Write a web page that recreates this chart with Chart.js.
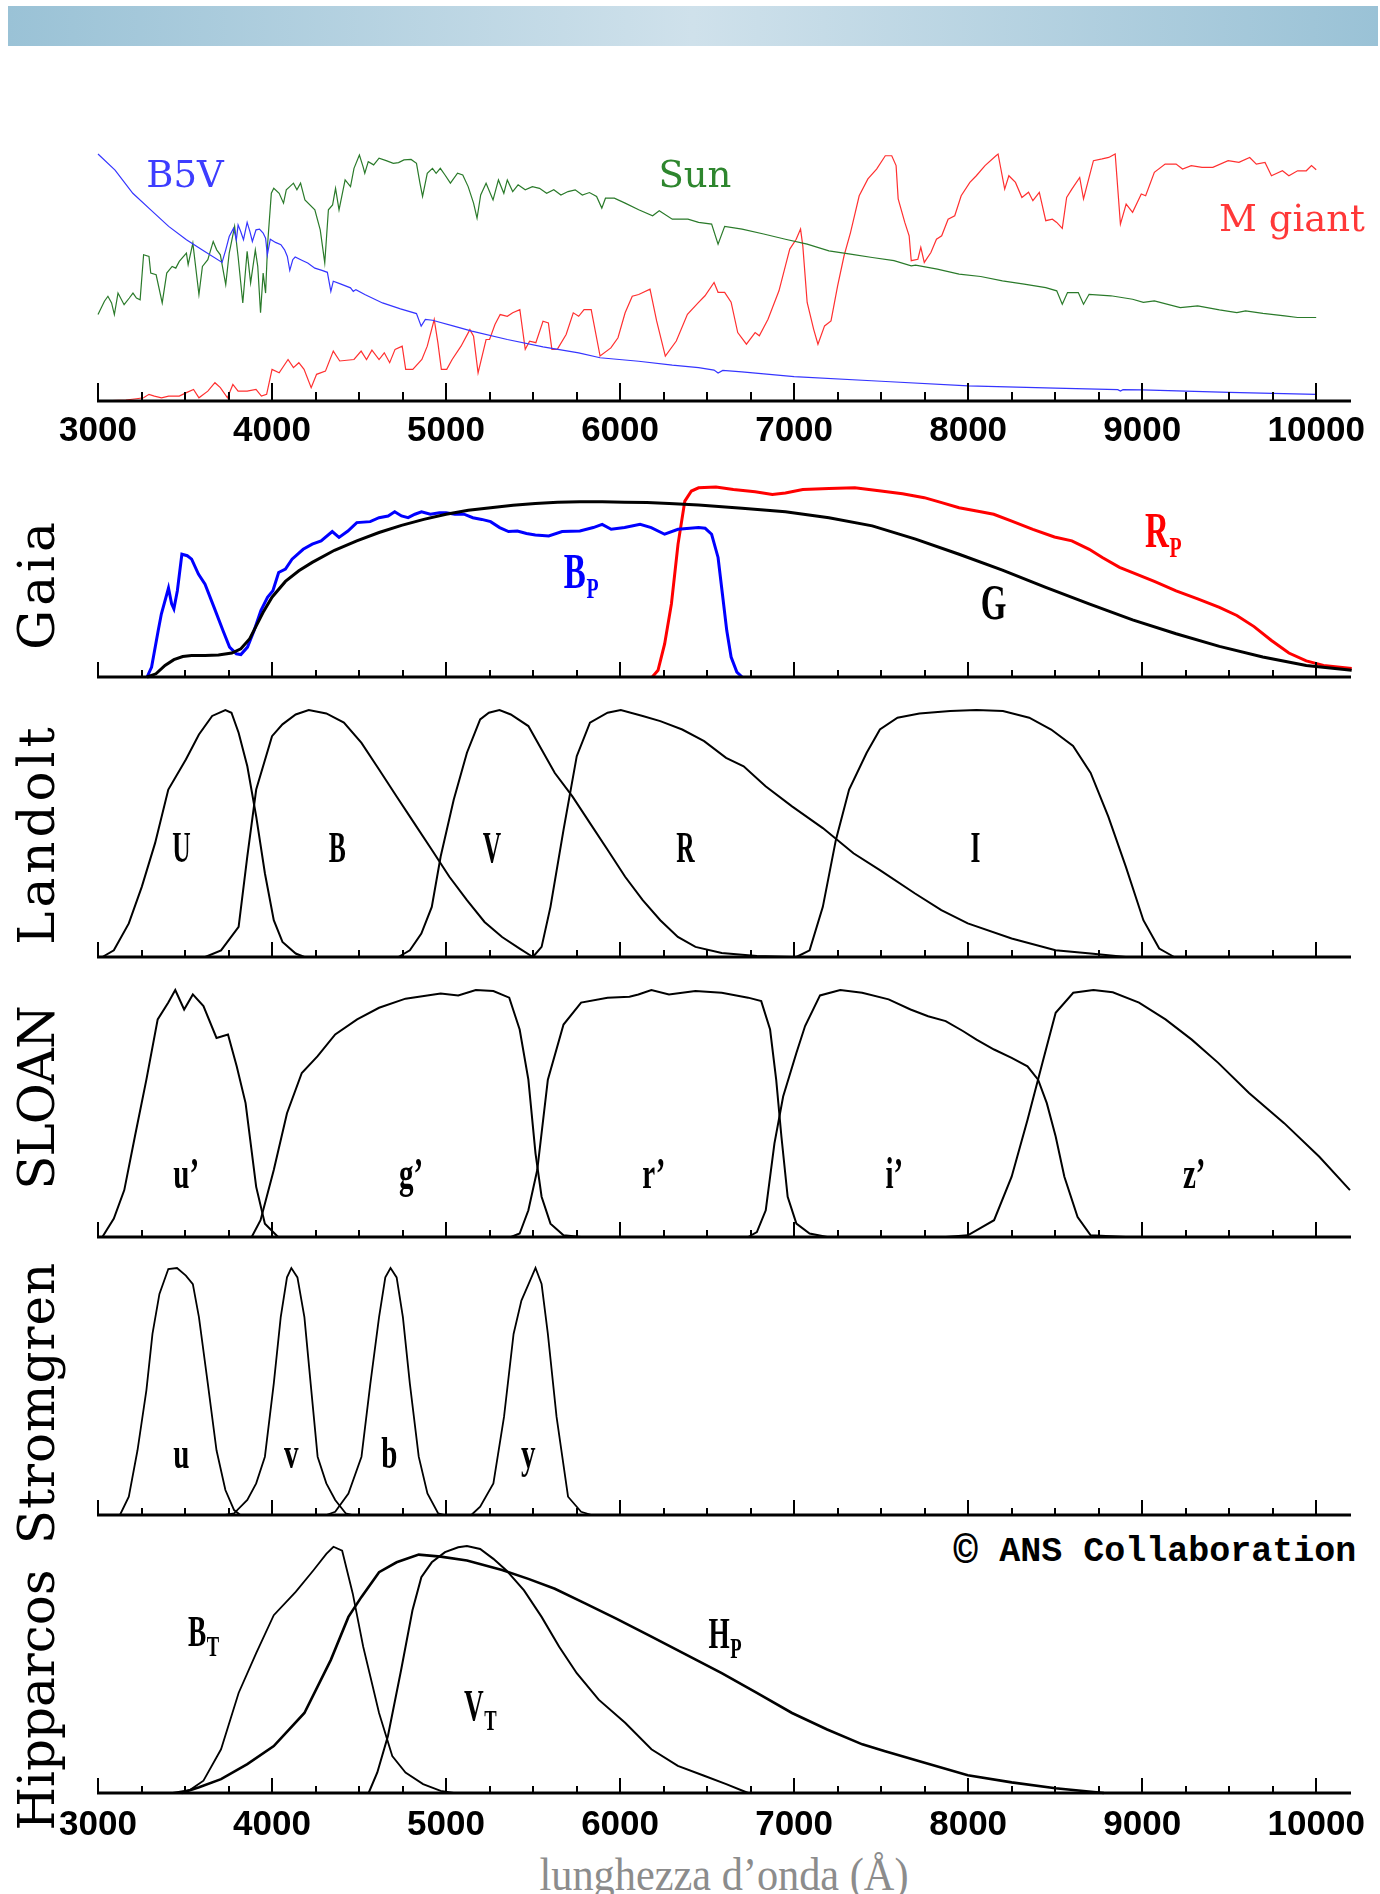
<!DOCTYPE html>
<html lang="it">
<head>
<meta charset="UTF-8">
<title>Sistemi fotometrici</title>
<script src="https://cdn.jsdelivr.net/npm/chart.js"></script>
<style>
  body { margin: 0; background: #fff; }
  #page { position: relative; width: 1380px; height: 1894px; overflow: hidden; }
  .banner {
    position: absolute; left: 8px; top: 6px; width: 1370px; height: 40px;
    background: linear-gradient(to right, #9ac2d6 0%, #cfe1eb 50%, #9ac2d6 100%);
  }
  canvas.panel { position: absolute; left: 0; }
  .side {
    position: absolute; left: 37px;
    font-family: "DejaVu Serif", serif; font-size: 50px; line-height: 1;
    white-space: nowrap; color: #000;
    transform: translate(-50%, -50%) rotate(-90deg);
  }
  .copy {
    position: absolute; left: 953px; top: 1553px; transform: translateY(-50%);
    font-family: "Liberation Mono", monospace; font-size: 35px; font-weight: bold; white-space: nowrap;
  }
  .copy .c { font-size: 42px; vertical-align: -3px; }
  .xtitle {
    position: absolute; left: 724px; top: 1874px; transform: translate(-50%, -50%) scaleX(0.92);
    font-family: "Liberation Serif", serif; font-size: 46px; color: #8c8c8c; white-space: nowrap;
  }
</style>
</head>
<body>
<div id="page">
  <div class="banner"></div>
  <div class="side" style="top:584px; letter-spacing:4px;">Gaia</div>
  <div class="side" style="top:834px; letter-spacing:4px;">Landolt</div>
  <div class="side" style="top:1098px; letter-spacing:-1px;">SLOAN</div>
  <div class="side" style="top:1403px; letter-spacing:1px;">Stromgren</div>
  <div class="side" style="top:1700px; letter-spacing:0px;">Hipparcos</div>
  <div class="copy"><span class="c">©</span> ANS Collaboration</div>
  <div class="xtitle">lunghezza d’onda (Å)</div>
</div>

<script>
    // asse delle lunghezze d'onda (Angstrom)
    const WL_MIN = 3000, WL_MAX = 10200;
    const tickWl = [3000, 4000, 5000, 6000, 7000, 8000, 9000, 10000];
    const tickLabels = ['3000', '4000', '5000', '6000', '7000', '8000', '9000', '10000'];

    // spettri (flusso normalizzato)
    const b5vWl = [3000, 3098, 3200, 3303, 3406, 3508, 3611, 3713, 3734, 3754, 3779, 3795, 3805, 3820, 3836, 3857, 3873, 3887, 3908, 3928, 3949, 3963, 3973, 3990, 4020, 4051, 4072, 4088, 4102, 4119, 4133, 4174, 4205, 4246, 4287, 4318, 4338, 4352, 4389, 4451, 4467, 4482, 4533, 4635, 4738, 4830, 4857, 4881, 4922, 5045, 5148, 5352, 5557, 5762, 5885, 6107, 6300, 6451, 6540, 6563, 6590, 6700, 7000, 7500, 8000, 8500, 8860, 8875, 8890, 9000, 9500, 10000];
    const b5vFlux = [1.0, 0.935, 0.841, 0.774, 0.707, 0.653, 0.606, 0.561, 0.612, 0.666, 0.70, 0.653, 0.713, 0.686, 0.653, 0.723, 0.686, 0.646, 0.693, 0.696, 0.68, 0.659, 0.592, 0.655, 0.642, 0.633, 0.612, 0.585, 0.529, 0.572, 0.583, 0.569, 0.559, 0.538, 0.529, 0.521, 0.444, 0.485, 0.475, 0.458, 0.444, 0.451, 0.431, 0.397, 0.373, 0.354, 0.303, 0.33, 0.327, 0.303, 0.283, 0.249, 0.219, 0.195, 0.175, 0.161, 0.145, 0.135, 0.125, 0.113, 0.124, 0.118, 0.099, 0.08, 0.061, 0.052, 0.046, 0.04, 0.046, 0.045, 0.035, 0.027];

    const sunWl = [3000, 3037, 3057, 3078, 3094, 3115, 3150, 3180, 3201, 3221, 3242, 3262, 3293, 3303, 3334, 3369, 3395, 3426, 3447, 3467, 3508, 3518, 3545, 3580, 3600, 3631, 3662, 3682, 3703, 3734, 3754, 3785, 3805, 3832, 3857, 3877, 3904, 3918, 3934, 3949, 3963, 3975, 3996, 4010, 4041, 4066, 4082, 4102, 4123, 4143, 4164, 4189, 4246, 4277, 4303, 4324, 4348, 4365, 4385, 4420, 4451, 4471, 4502, 4523, 4533, 4553, 4584, 4615, 4656, 4697, 4727, 4758, 4799, 4830, 4850, 4865, 4892, 4922, 4943, 4967, 4994, 5025, 5066, 5096, 5127, 5158, 5178, 5199, 5230, 5270, 5301, 5332, 5352, 5383, 5414, 5455, 5496, 5537, 5578, 5619, 5660, 5701, 5742, 5783, 5824, 5865, 5895, 5916, 5967, 6029, 6107, 6187, 6225, 6300, 6390, 6451, 6526, 6563, 6601, 6701, 6825, 6950, 7075, 7200, 7324, 7449, 7574, 7673, 7698, 7823, 7948, 8072, 8197, 8322, 8446, 8509, 8541, 8571, 8633, 8663, 8695, 8820, 8945, 9007, 9070, 9219, 9319, 9444, 9544, 9594, 9694, 9819, 9893, 10000];
    const sunFlux = [0.35, 0.404, 0.424, 0.397, 0.35, 0.437, 0.39, 0.417, 0.437, 0.417, 0.41, 0.592, 0.585, 0.518, 0.511, 0.397, 0.518, 0.545, 0.538, 0.565, 0.599, 0.552, 0.639, 0.431, 0.545, 0.572, 0.646, 0.612, 0.592, 0.471, 0.599, 0.707, 0.585, 0.397, 0.606, 0.478, 0.612, 0.545, 0.357, 0.518, 0.437, 0.639, 0.841, 0.861, 0.841, 0.801, 0.855, 0.868, 0.882, 0.855, 0.882, 0.814, 0.774, 0.693, 0.559, 0.774, 0.794, 0.861, 0.774, 0.895, 0.868, 0.942, 0.996, 0.949, 0.922, 0.969, 0.956, 0.983, 0.973, 0.962, 0.965, 0.976, 0.978, 0.962, 0.882, 0.828, 0.922, 0.942, 0.922, 0.942, 0.915, 0.882, 0.922, 0.915, 0.868, 0.801, 0.74, 0.834, 0.882, 0.814, 0.895, 0.841, 0.895, 0.848, 0.875, 0.855, 0.868, 0.861, 0.841, 0.855, 0.834, 0.848, 0.855, 0.834, 0.844, 0.828, 0.781, 0.821, 0.821, 0.801, 0.774, 0.75, 0.77, 0.736, 0.736, 0.723, 0.716, 0.635, 0.707, 0.696, 0.676, 0.655, 0.635, 0.608, 0.595, 0.581, 0.568, 0.547, 0.55, 0.534, 0.514, 0.504, 0.486, 0.473, 0.459, 0.446, 0.392, 0.439, 0.439, 0.392, 0.432, 0.426, 0.412, 0.399, 0.405, 0.378, 0.385, 0.369, 0.358, 0.365, 0.355, 0.345, 0.338, 0.338];

    const mgiantWl = [3000, 3160, 3221, 3262, 3293, 3324, 3365, 3406, 3467, 3508, 3549, 3580, 3631, 3672, 3703, 3744, 3775, 3805, 3857, 3908, 3939, 3969, 4000, 4041, 4092, 4123, 4154, 4184, 4225, 4256, 4307, 4352, 4389, 4471, 4512, 4543, 4574, 4615, 4645, 4676, 4707, 4748, 4768, 4809, 4861, 4892, 4932, 4953, 4973, 5004, 5035, 5086, 5137, 5158, 5184, 5230, 5250, 5281, 5311, 5352, 5383, 5424, 5455, 5480, 5516, 5557, 5588, 5608, 5639, 5690, 5731, 5762, 5793, 5834, 5885, 5947, 5988, 6029, 6070, 6107, 6172, 6210, 6260, 6323, 6387, 6451, 6488, 6540, 6563, 6601, 6638, 6676, 6726, 6776, 6800, 6850, 6913, 6950, 6975, 7012, 7037, 7050, 7075, 7112, 7137, 7175, 7212, 7250, 7287, 7324, 7374, 7424, 7474, 7524, 7561, 7586, 7598, 7636, 7661, 7673, 7711, 7728, 7748, 7786, 7818, 7848, 7885, 7923, 7960, 8010, 8047, 8097, 8160, 8172, 8210, 8234, 8272, 8309, 8347, 8372, 8409, 8446, 8484, 8509, 8541, 8566, 8596, 8641, 8663, 8695, 8720, 8770, 8808, 8845, 8875, 8908, 8945, 8995, 9020, 9070, 9132, 9195, 9232, 9282, 9344, 9406, 9494, 9556, 9618, 9656, 9706, 9743, 9806, 9843, 9893, 9943, 9973, 10000];
    const mgiantFlux = [0, 0.004, 0.009, 0.013, 0.027, 0.02, 0.013, 0.02, 0.02, 0.034, 0.047, 0.013, 0.04, 0.074, 0.054, 0.013, 0.067, 0.04, 0.04, 0.047, 0.02, 0.027, 0.128, 0.114, 0.168, 0.135, 0.155, 0.128, 0.054, 0.108, 0.121, 0.202, 0.162, 0.168, 0.202, 0.168, 0.206, 0.168, 0.195, 0.155, 0.209, 0.222, 0.128, 0.128, 0.168, 0.222, 0.33, 0.236, 0.128, 0.128, 0.168, 0.222, 0.289, 0.262, 0.114, 0.249, 0.249, 0.31, 0.35, 0.343, 0.357, 0.37, 0.209, 0.242, 0.236, 0.323, 0.316, 0.209, 0.209, 0.269, 0.357, 0.343, 0.37, 0.37, 0.182, 0.215, 0.256, 0.357, 0.424, 0.431, 0.453, 0.324, 0.182, 0.243, 0.351, 0.399, 0.426, 0.48, 0.44, 0.44, 0.40, 0.277, 0.23, 0.277, 0.264, 0.331, 0.446, 0.547, 0.615, 0.655, 0.696, 0.628, 0.399, 0.291, 0.23, 0.304, 0.324, 0.466, 0.588, 0.682, 0.831, 0.899, 0.939, 0.993, 0.993, 0.953, 0.818, 0.723, 0.669, 0.568, 0.574, 0.622, 0.561, 0.601, 0.655, 0.669, 0.736, 0.75, 0.831, 0.885, 0.912, 0.953, 0.993, 1.0, 0.858, 0.912, 0.885, 0.824, 0.845, 0.811, 0.845, 0.73, 0.736, 0.723, 0.699, 0.824, 0.858, 0.905, 0.818, 0.905, 0.973, 0.98, 0.986, 1.0, 0.716, 0.797, 0.764, 0.838, 0.831, 0.926, 0.959, 0.959, 0.939, 0.953, 0.946, 0.946, 0.973, 0.966, 0.986, 0.959, 0.966, 0.912, 0.932, 0.912, 0.932, 0.932, 0.953, 0.936];

    // Gaia
    const gaiaBpWl = [3282, 3308, 3346, 3364, 3405, 3423, 3436, 3456, 3482, 3513, 3538, 3577, 3615, 3667, 3718, 3756, 3795, 3821, 3859, 3897, 3936, 3974, 4005, 4038, 4077, 4115, 4179, 4231, 4282, 4346, 4385, 4436, 4487, 4564, 4615, 4667, 4705, 4744, 4782, 4821, 4859, 4910, 4962, 5000, 5051, 5103, 5154, 5205, 5256, 5308, 5359, 5410, 5462, 5513, 5590, 5667, 5769, 5846, 5897, 5949, 6026, 6115, 6179, 6256, 6333, 6451, 6489, 6526, 6563, 6588, 6613, 6638, 6671, 6701];
    const gaiaBpTr = [0, 0.04, 0.188, 0.255, 0.36, 0.296, 0.276, 0.349, 0.497, 0.491, 0.477, 0.417, 0.376, 0.282, 0.188, 0.121, 0.094, 0.091, 0.121, 0.188, 0.269, 0.323, 0.349, 0.423, 0.437, 0.477, 0.517, 0.538, 0.551, 0.589, 0.565, 0.591, 0.625, 0.629, 0.645, 0.652, 0.669, 0.652, 0.645, 0.659, 0.669, 0.659, 0.665, 0.665, 0.659, 0.659, 0.645, 0.638, 0.629, 0.605, 0.589, 0.591, 0.581, 0.575, 0.571, 0.589, 0.591, 0.605, 0.618, 0.598, 0.605, 0.618, 0.605, 0.578, 0.598, 0.605, 0.602, 0.578, 0.484, 0.336, 0.188, 0.081, 0.02, 0];
    const gaiaRpWl = [6185, 6218, 6256, 6295, 6333, 6372, 6410, 6451, 6551, 6651, 6776, 6875, 6950, 7050, 7200, 7349, 7499, 7623, 7748, 7848, 7948, 8072, 8147, 8247, 8372, 8496, 8596, 8696, 8771, 8870, 8945, 9070, 9195, 9319, 9444, 9544, 9643, 9743, 9843, 9943, 10042, 10204];
    const gaiaRpTr = [0, 0.027, 0.134, 0.296, 0.538, 0.712, 0.753, 0.766, 0.769, 0.759, 0.75, 0.739, 0.745, 0.759, 0.763, 0.766, 0.753, 0.742, 0.726, 0.706, 0.685, 0.669, 0.659, 0.632, 0.598, 0.567, 0.551, 0.517, 0.484, 0.444, 0.423, 0.387, 0.349, 0.316, 0.282, 0.249, 0.204, 0.148, 0.097, 0.065, 0.047, 0.034];
    const gaiaGWl = [3282, 3333, 3385, 3436, 3487, 3538, 3615, 3692, 3769, 3821, 3872, 3910, 3949, 4000, 4077, 4154, 4231, 4359, 4487, 4615, 4744, 4872, 5000, 5128, 5256, 5385, 5513, 5641, 5769, 5897, 6026, 6154, 6282, 6451, 6701, 6950, 7200, 7449, 7698, 7948, 8197, 8446, 8695, 8945, 9195, 9444, 9693, 9943, 10204];
    const gaiaGTr = [0, 0.013, 0.047, 0.07, 0.083, 0.087, 0.087, 0.089, 0.097, 0.114, 0.155, 0.208, 0.262, 0.323, 0.387, 0.43, 0.464, 0.513, 0.551, 0.585, 0.614, 0.638, 0.659, 0.675, 0.685, 0.695, 0.702, 0.707, 0.71, 0.71, 0.707, 0.706, 0.702, 0.696, 0.683, 0.669, 0.645, 0.612, 0.558, 0.497, 0.433, 0.363, 0.296, 0.231, 0.175, 0.124, 0.081, 0.047, 0.027];

    // Landolt UBVRI
    const landUWl = [3025, 3091, 3177, 3252, 3328, 3404, 3505, 3580, 3656, 3732, 3767, 3808, 3858, 3909, 3959, 4010, 4060, 4136, 4186];
    const landUTr = [0, 0.027, 0.136, 0.285, 0.461, 0.678, 0.80, 0.901, 0.976, 1.0, 0.989, 0.908, 0.772, 0.569, 0.339, 0.149, 0.061, 0.014, 0];
    const landBWl = [3616, 3707, 3808, 3858, 3909, 4000, 4060, 4136, 4211, 4312, 4413, 4514, 4615, 4716, 4817, 4918, 5019, 5120, 5221, 5322, 5423, 5499];
    const landBTr = [0, 0.027, 0.122, 0.407, 0.678, 0.894, 0.942, 0.982, 1.0, 0.986, 0.949, 0.867, 0.759, 0.65, 0.542, 0.434, 0.325, 0.23, 0.142, 0.081, 0.034, 0];
    const landVWl = [4726, 4792, 4858, 4918, 4969, 5044, 5120, 5196, 5246, 5307, 5372, 5473, 5549, 5625, 5726, 5827, 5928, 6029, 6130, 6231, 6332, 6433, 6584, 6786, 6988];
    const landVTr = [0, 0.027, 0.095, 0.203, 0.407, 0.637, 0.827, 0.962, 0.989, 1.0, 0.982, 0.935, 0.84, 0.745, 0.65, 0.542, 0.434, 0.325, 0.23, 0.149, 0.081, 0.041, 0.016, 0.004, 0];
    const landRWl = [5499, 5549, 5600, 5675, 5751, 5827, 5928, 6004, 6130, 6231, 6357, 6483, 6609, 6710, 6836, 6988, 7165, 7341, 7493, 7695, 7846, 7998, 8250, 8502, 8704, 8906];
    const landRTr = [0, 0.041, 0.203, 0.515, 0.813, 0.949, 0.989, 1.0, 0.976, 0.955, 0.921, 0.874, 0.806, 0.772, 0.691, 0.61, 0.522, 0.42, 0.352, 0.257, 0.19, 0.136, 0.075, 0.027, 0.014, 0];
    const landIWl = [7013, 7089, 7165, 7240, 7316, 7417, 7493, 7594, 7720, 7897, 8048, 8200, 8351, 8477, 8603, 8704, 8805, 8906, 9007, 9098, 9184];
    const landITr = [0, 0.027, 0.203, 0.474, 0.678, 0.827, 0.921, 0.969, 0.986, 0.996, 1.0, 0.996, 0.969, 0.921, 0.854, 0.745, 0.569, 0.366, 0.149, 0.034, 0];

    // SLOAN u'g'r'i'z'
    const sdssUWl = [3025, 3091, 3151, 3212, 3278, 3343, 3404, 3444, 3495, 3545, 3606, 3681, 3747, 3797, 3848, 3909, 3959, 4035];
    const sdssUTr = [0, 0.075, 0.19, 0.407, 0.637, 0.881, 0.949, 1.0, 0.921, 0.982, 0.935, 0.806, 0.82, 0.691, 0.542, 0.203, 0.054, 0];
    const sdssGWl = [3883, 3934, 4010, 4086, 4171, 4262, 4363, 4489, 4615, 4767, 4969, 5070, 5171, 5272, 5363, 5423, 5473, 5514, 5549, 5600, 5675, 5776];
    const sdssGTr = [0, 0.068, 0.271, 0.501, 0.664, 0.732, 0.82, 0.881, 0.928, 0.965, 0.986, 0.978, 1.0, 0.996, 0.969, 0.84, 0.637, 0.339, 0.163, 0.054, 0.007, 0];
    const sdssRWl = [5373, 5423, 5473, 5524, 5585, 5675, 5776, 5928, 6054, 6105, 6180, 6281, 6433, 6584, 6736, 6811, 6862, 6897, 6927, 6963, 7013, 7089, 7190];
    const sdssRTr = [0, 0.014, 0.108, 0.271, 0.637, 0.86, 0.949, 0.969, 0.973, 0.982, 1.0, 0.982, 0.996, 0.989, 0.969, 0.955, 0.84, 0.637, 0.407, 0.163, 0.054, 0.014, 0];
    const sdssIWl = [6736, 6786, 6837, 6887, 6937, 7013, 7063, 7149, 7265, 7391, 7543, 7669, 7770, 7871, 7972, 8048, 8149, 8250, 8341, 8402, 8452, 8503, 8553, 8629, 8704, 8906];
    const sdssITr = [0, 0.02, 0.108, 0.379, 0.569, 0.745, 0.854, 0.978, 1.0, 0.989, 0.962, 0.921, 0.894, 0.874, 0.833, 0.799, 0.759, 0.725, 0.691, 0.637, 0.542, 0.407, 0.244, 0.081, 0.007, 0];
    const sdssZWl = [7871, 7998, 8149, 8250, 8341, 8427, 8503, 8604, 8720, 8831, 8982, 9134, 9285, 9437, 9614, 9816, 10018, 10194];
    const sdssZTr = [0, 0.007, 0.068, 0.244, 0.474, 0.705, 0.908, 0.989, 1.0, 0.991, 0.949, 0.881, 0.799, 0.705, 0.583, 0.461, 0.325, 0.19];

    // Stromgren uvby
    const stromUWl = [3126, 3177, 3227, 3278, 3313, 3353, 3404, 3454, 3505, 3545, 3580, 3631, 3681, 3732, 3782, 3818];
    const stromUTr = [0, 0.074, 0.262, 0.505, 0.733, 0.895, 0.996, 1.0, 0.969, 0.935, 0.801, 0.532, 0.262, 0.101, 0.02, 0];
    const stromVWl = [3732, 3782, 3858, 3909, 3959, 4010, 4050, 4086, 4111, 4146, 4186, 4222, 4262, 4312, 4363, 4423, 4464];
    const stromVTr = [0, 0.007, 0.061, 0.128, 0.236, 0.532, 0.801, 0.962, 1.0, 0.962, 0.801, 0.532, 0.236, 0.128, 0.061, 0.007, 0];
    const stromBWl = [4312, 4363, 4439, 4514, 4565, 4615, 4651, 4681, 4716, 4752, 4792, 4843, 4893, 4954, 4994];
    const stromBTr = [0, 0.013, 0.087, 0.236, 0.532, 0.801, 0.962, 1.0, 0.962, 0.801, 0.532, 0.236, 0.087, 0.007, 0];
    const stromYWl = [5145, 5196, 5272, 5333, 5388, 5433, 5474, 5514, 5549, 5585, 5635, 5701, 5776, 5837];
    const stromYTr = [0, 0.034, 0.128, 0.397, 0.733, 0.868, 0.935, 1.0, 0.935, 0.733, 0.397, 0.074, 0.013, 0];

    // Hipparcos / Tycho
    const hipBtWl = [3429, 3530, 3606, 3707, 3808, 3909, 4010, 4136, 4237, 4312, 4353, 4403, 4464, 4524, 4565, 4615, 4691, 4767, 4868, 4969, 5044];
    const hipBtTr = [0, 0.013, 0.05, 0.177, 0.405, 0.566, 0.72, 0.814, 0.901, 0.968, 0.997, 0.981, 0.807, 0.592, 0.472, 0.324, 0.15, 0.083, 0.036, 0.009, 0];
    const hipHpWl = [3480, 3581, 3707, 3858, 4010, 4186, 4338, 4439, 4514, 4615, 4716, 4843, 4969, 5120, 5322, 5473, 5625, 5802, 5978, 6180, 6382, 6584, 6786, 6988, 7190, 7392, 7518, 7745, 7998, 8250, 8502, 8780];
    const hipHpTr = [0, 0.023, 0.056, 0.117, 0.19, 0.324, 0.539, 0.713, 0.794, 0.894, 0.934, 0.965, 0.957, 0.941, 0.903, 0.867, 0.827, 0.767, 0.706, 0.633, 0.559, 0.485, 0.405, 0.324, 0.257, 0.197, 0.17, 0.123, 0.072, 0.043, 0.019, 0];
    const hipVtWl = [4555, 4605, 4666, 4742, 4807, 4858, 4918, 4994, 5070, 5120, 5196, 5272, 5347, 5448, 5549, 5650, 5751, 5877, 6029, 6180, 6332, 6483, 6610, 6736];
    const hipVtTr = [0, 0.083, 0.231, 0.499, 0.74, 0.874, 0.934, 0.975, 0.995, 1.0, 0.988, 0.948, 0.901, 0.82, 0.713, 0.592, 0.485, 0.378, 0.284, 0.177, 0.11, 0.07, 0.036, 0];

    const page = document.getElementById('page');
    const PLOT_H = 247, PAD_TOP = 60, PAD_BOTTOM = 60;

    const specFont = '37px "DejaVu Serif"';
    const bandFont = 'bold 44px "Liberation Serif"';
    const gaiaFont = 'bold 50px "Liberation Serif"';
    const subFont = 'bold 30px "Liberation Serif"';

    function pts(wl, val) {
        return wl.map((w, i) => ({ x: w, y: val[i] }));
    }

    function line(wl, val, color, width) {
        return {
            data: pts(wl, val),
            borderColor: color,
            borderWidth: width,
            pointRadius: 0,
            tension: 0,
            fill: false,
            clip: false
        };
    }

    function drawNote(ctx, xs, ys, n) {
        const px = xs.getPixelForValue(n.wl);
        const py = ys.getPixelForValue(n.h);
        ctx.save();
        ctx.translate(px, py);
        ctx.scale(n.sx || 1, 1);
        ctx.font = n.font;
        ctx.fillStyle = n.color || '#000';
        ctx.textAlign = 'center';
        ctx.textBaseline = 'alphabetic';
        ctx.fillText(n.text, 0, 0);
        if (n.sub) {
            const w = ctx.measureText(n.text).width;
            ctx.font = subFont;
            ctx.textAlign = 'left';
            ctx.fillText(n.sub, w / 2 + 1, 10);
        }
        ctx.restore();
    }

    function makePanel(axisY, datasets, notes, opt) {
        const cv = document.createElement('canvas');
        cv.className = 'panel';
        cv.width = 1380;
        cv.height = PAD_TOP + PLOT_H + PAD_BOTTOM;
        cv.style.top = (axisY - PLOT_H - PAD_TOP) + 'px';
        page.appendChild(cv);

        const decor = {
            id: 'decor',
            afterDatasetsDraw(chart) {
                const { ctx, chartArea } = chart;
                const xs = chart.scales.x, ys = chart.scales.y;
                const y0 = chartArea.bottom;
                ctx.save();
                ctx.strokeStyle = '#000';
                ctx.lineWidth = 3;
                ctx.beginPath();
                ctx.moveTo(xs.getPixelForValue(WL_MIN) - 1, y0);
                ctx.lineTo(xs.getPixelForValue(WL_MAX), y0);
                ctx.stroke();
                ctx.lineWidth = 2;
                for (let w = WL_MIN; w <= 10000; w += 250) {
                    const px = Math.round(xs.getPixelForValue(w));
                    const len = w % 1000 === 0 ? opt.major : opt.minor;
                    ctx.beginPath();
                    ctx.moveTo(px, y0);
                    ctx.lineTo(px, y0 - len);
                    ctx.stroke();
                }
                if (opt.labels) {
                    ctx.fillStyle = '#000';
                    ctx.font = 'bold 35px "Liberation Sans"';
                    ctx.textAlign = 'center';
                    ctx.textBaseline = 'middle';
                    tickWl.forEach((w, i) => {
                        ctx.fillText(tickLabels[i], xs.getPixelForValue(w), y0 + opt.labelGap);
                    });
                }
                ctx.restore();
                notes.forEach(n => drawNote(ctx, xs, ys, n));
            }
        };

        return new Chart(cv, {
            type: 'line',
            data: { datasets },
            options: {
                responsive: false,
                animation: false,
                devicePixelRatio: 1,
                events: [],
                layout: { padding: { left: 98, right: 29, top: PAD_TOP, bottom: PAD_BOTTOM } },
                plugins: { legend: { display: false }, tooltip: { enabled: false } },
                scales: {
                    x: { type: 'linear', min: WL_MIN, max: WL_MAX, display: false },
                    y: { type: 'linear', min: 0, max: 1, display: false }
                }
            },
            plugins: [decor]
        });
    }

    // spettri di riferimento
    makePanel(401, [
        line(b5vWl, b5vFlux, '#3535ff', 1.2),
        line(sunWl, sunFlux, '#2a7a2a', 1.2),
        line(mgiantWl, mgiantFlux, '#ff3030', 1.2)
    ], [
        { text: 'B5V', wl: 3500, h: 0.866, font: specFont, color: '#3d3dff' },
        { text: 'Sun', wl: 6430, h: 0.866, font: specFont, color: '#2e862e' },
        { text: 'M giant', wl: 9861, h: 0.688, font: specFont, color: '#ff3838' }
    ], { major: 18, minor: 9, labels: true, labelGap: 30 });

    // Gaia
    makePanel(677, [
        line(gaiaGWl, gaiaGTr, '#000', 3),
        line(gaiaBpWl, gaiaBpTr, '#0000ff', 3),
        line(gaiaRpWl, gaiaRpTr, '#ff0000', 3)
    ], [
        { text: 'B', sub: 'P', wl: 5740, h: 0.36, font: gaiaFont, sx: 0.66, color: '#0000ff' },
        { text: 'G', wl: 8146, h: 0.235, font: gaiaFont, sx: 0.66 },
        { text: 'R', sub: 'P', wl: 9085, h: 0.526, font: gaiaFont, sx: 0.66, color: '#ff0000' }
    ], { major: 15, minor: 7 });

    // Landolt
    makePanel(957, [
        line(landUWl, landUTr, '#000', 2),
        line(landBWl, landBTr, '#000', 2),
        line(landVWl, landVTr, '#000', 2),
        line(landRWl, landRTr, '#000', 2),
        line(landIWl, landITr, '#000', 2)
    ], [
        { text: 'U', wl: 3479, h: 0.386, font: bandFont, sx: 0.58 },
        { text: 'B', wl: 4375, h: 0.386, font: bandFont, sx: 0.58 },
        { text: 'V', wl: 5264, h: 0.386, font: bandFont, sx: 0.58 },
        { text: 'R', wl: 6375, h: 0.386, font: bandFont, sx: 0.58 },
        { text: 'I', wl: 8042, h: 0.386, font: bandFont, sx: 0.58 }
    ], { major: 15, minor: 7 });

    // SLOAN
    makePanel(1237, [
        line(sdssUWl, sdssUTr, '#000', 2),
        line(sdssGWl, sdssGTr, '#000', 2),
        line(sdssRWl, sdssRTr, '#000', 2),
        line(sdssIWl, sdssITr, '#000', 2),
        line(sdssZWl, sdssZTr, '#000', 2)
    ], [
        { text: 'u’', wl: 3507, h: 0.198, font: bandFont, sx: 0.66 },
        { text: 'g’', wl: 4799, h: 0.198, font: bandFont, sx: 0.66 },
        { text: 'r’', wl: 6194, h: 0.198, font: bandFont, sx: 0.66 },
        { text: 'i’', wl: 7576, h: 0.198, font: bandFont, sx: 0.66 },
        { text: 'z’', wl: 9299, h: 0.198, font: bandFont, sx: 0.66 }
    ], { major: 15, minor: 7 });

    // Stromgren
    makePanel(1515, [
        line(stromUWl, stromUTr, '#000', 1.8),
        line(stromVWl, stromVTr, '#000', 1.8),
        line(stromBWl, stromBTr, '#000', 1.8),
        line(stromYWl, stromYTr, '#000', 1.8)
    ], [
        { text: 'u', wl: 3479, h: 0.19, font: bandFont, sx: 0.66 },
        { text: 'v', wl: 4111, h: 0.19, font: bandFont, sx: 0.66 },
        { text: 'b', wl: 4674, h: 0.19, font: bandFont, sx: 0.66 },
        { text: 'y', wl: 5472, h: 0.19, font: bandFont, sx: 0.66 }
    ], { major: 15, minor: 7 });

    // Hipparcos
    makePanel(1793, [
        line(hipBtWl, hipBtTr, '#000', 1.8),
        line(hipHpWl, hipHpTr, '#000', 2.6),
        line(hipVtWl, hipVtTr, '#000', 2)
    ], [
        { text: 'B', sub: 'T', wl: 3569, h: 0.595, font: bandFont, sx: 0.62 },
        { text: 'V', sub: 'T', wl: 5160, h: 0.296, font: bandFont, sx: 0.62 },
        { text: 'H', sub: 'P', wl: 6569, h: 0.587, font: bandFont, sx: 0.62 }
    ], { major: 15, minor: 7, labels: true, labelGap: 32 });
</script>
</body>
</html>
